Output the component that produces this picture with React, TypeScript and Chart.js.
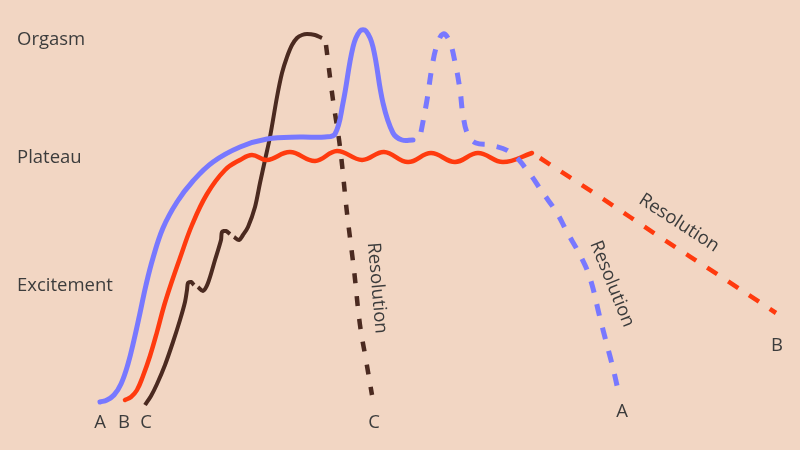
import React, { useEffect, useRef } from "react";
import { Chart, registerables } from "chart.js";

Chart.register(...registerables);

// Schematic coordinates: x = time (0..800), y = depth from top (0..450, reversed => higher arousal is up)
const blueSolidX = [100, 107, 114, 121, 128, 134, 140, 146, 153, 163, 177, 193, 213, 240, 267, 300, 325, 335, 343, 353, 360, 366, 373, 383, 393, 402, 413];
const blueSolidY = [402, 400, 395, 384, 364, 340, 313, 285, 258, 228, 202, 181, 162, 147, 139, 137, 137, 134, 103, 47, 31, 31, 47, 103, 133, 140, 140];

const blueDashX = [421, 427, 432, 437, 443, 449, 455, 460, 463, 468, 476, 490, 510, 527, 543, 557, 567, 580, 590, 600, 607, 613, 618];
const blueDashY = [132, 100, 67, 45, 34, 40, 62, 90, 115, 135, 143, 145, 152, 170, 193, 213, 232, 255, 278, 318, 345, 368, 390];

const redSolidX = [125, 131, 137, 143, 150, 157, 164, 172, 180, 192, 207, 225, 240, 252, 267, 290, 315, 337, 362, 384, 408, 431, 455, 478, 503, 532];
const redSolidY = [400, 397, 390, 376, 356, 332, 306, 281, 258, 225, 194, 170, 160, 155, 160, 152, 161, 151, 160, 152, 162, 153, 162, 153, 162, 153];

const redDashX = [540, 600, 660, 720, 776];
const redDashY = [158, 197, 237, 276, 313];

// null separates the three brown pieces (the stepwise rises)
const brownSolidX = [145, 151, 157, 165, 173, 180, 185, 187, 188, 191, 194, null, 198, 203, 208, 215, 221, 222, 226, 230, null, 234, 239, 243, 248, 255, 260, 265, 270, 277, 282, 287, 292, 297, 302, 307, 315, 322];
const brownSolidY = [405, 396, 384, 365, 342, 320, 302, 290, 283, 282, 285, null, 287, 291, 283, 260, 240, 232, 231, 234, null, 237, 240, 235, 227, 207, 183, 160, 137, 97, 73, 57, 45, 38, 35, 34, 35, 38];

const brownDashX = [326, 333, 340, 347, 354, 360, 366, 372];
const brownDashY = [45, 100, 147, 213, 270, 325, 360, 395];

// Text labels
const phaseLabels = ["Orgasm", "Plateau", "Excitement"];
const phaseLabelX = [17, 17, 17];
const phaseLabelY = [40, 158, 286];

const endLabels = ["A", "B", "C", "C", "A", "B"];
const endLabelX = [100, 124, 146, 374, 622, 777];
const endLabelY = [423, 423, 423, 423, 412, 346];

const resolutionLabels = ["Resolution", "Resolution", "Resolution"];
const resolutionX = [377, 612, 679];
const resolutionY = [288, 284, 223];
const resolutionAngle = [85, 68, 33];

const BLUE = "#7878ff";
const RED = "#ff3a0e";
const BROWN = "#4b2a20";
const TEXT = "#3c3c3c";
const BG = "#f2d6c3";

function pts(xs: (number | null)[], ys: (number | null)[]) {
  return xs.map((x, i) => ({ x: x as any, y: (x === null ? null : ys[i]) as any }));
}

const textPlugin = {
  id: "diagramText",
  afterDatasetsDraw(chart: any) {
    const { ctx, scales } = chart;
    const sx = scales.x;
    const sy = scales.y;
    ctx.save();
    ctx.fillStyle = TEXT;
    ctx.font = "18.5px 'Open Sans'";
    ctx.textBaseline = "middle";
    ctx.textAlign = "left";
    phaseLabels.forEach((t, i) => {
      ctx.fillText(t, sx.getPixelForValue(phaseLabelX[i]), sy.getPixelForValue(phaseLabelY[i]));
    });
    ctx.textAlign = "center";
    endLabels.forEach((t, i) => {
      ctx.fillText(t, sx.getPixelForValue(endLabelX[i]), sy.getPixelForValue(endLabelY[i]));
    });
    resolutionLabels.forEach((t, i) => {
      ctx.save();
      ctx.translate(sx.getPixelForValue(resolutionX[i]), sy.getPixelForValue(resolutionY[i]));
      ctx.rotate((resolutionAngle[i] * Math.PI) / 180);
      ctx.fillText(t, 0, 0);
      ctx.restore();
    });
    ctx.restore();
  },
};

export default function App() {
  const ref = useRef<HTMLCanvasElement>(null);
  useEffect(() => {
    if (!ref.current) return;
    const common = { pointRadius: 0, fill: false, tension: 0.4, spanGaps: false };
    const chart = new Chart(ref.current, {
      type: "line",
      data: {
        datasets: [
          { ...common, data: pts(blueSolidX, blueSolidY), borderColor: BLUE, borderWidth: 5, borderCapStyle: "round" },
          { ...common, data: pts(blueDashX, blueDashY), borderColor: BLUE, borderWidth: 5, borderDash: [12, 12], borderCapStyle: "butt" },
          { ...common, data: pts(redSolidX, redSolidY), borderColor: RED, borderWidth: 4.5, borderCapStyle: "round" },
          { ...common, data: pts(redDashX, redDashY), borderColor: RED, borderWidth: 4.5, borderDash: [12, 13], borderCapStyle: "butt" },
          { ...common, tension: 0.3, data: pts(brownSolidX, brownSolidY), borderColor: BROWN, borderWidth: 4, borderCapStyle: "butt" },
          { ...common, data: pts(brownDashX, brownDashY), borderColor: BROWN, borderWidth: 4.5, borderDash: [10, 13], borderCapStyle: "butt" },
        ] as any,
      },
      options: {
        animation: false,
        responsive: false,
        maintainAspectRatio: false,
        layout: { padding: 0 },
        parsing: false as any,
        events: [],
        plugins: { legend: { display: false }, tooltip: { enabled: false } },
        scales: {
          x: { type: "linear", min: 0, max: 800, display: false },
          y: { type: "linear", min: 0, max: 450, reverse: true, display: false },
        },
      },
      plugins: [textPlugin],
    });
    return () => chart.destroy();
  }, []);
  return (
    <div style={{ position: "fixed", left: 0, top: 0, width: 800, height: 450, background: BG }}>
      <canvas ref={ref} width={800} height={450} style={{ display: "block" }} />
    </div>
  );
}
